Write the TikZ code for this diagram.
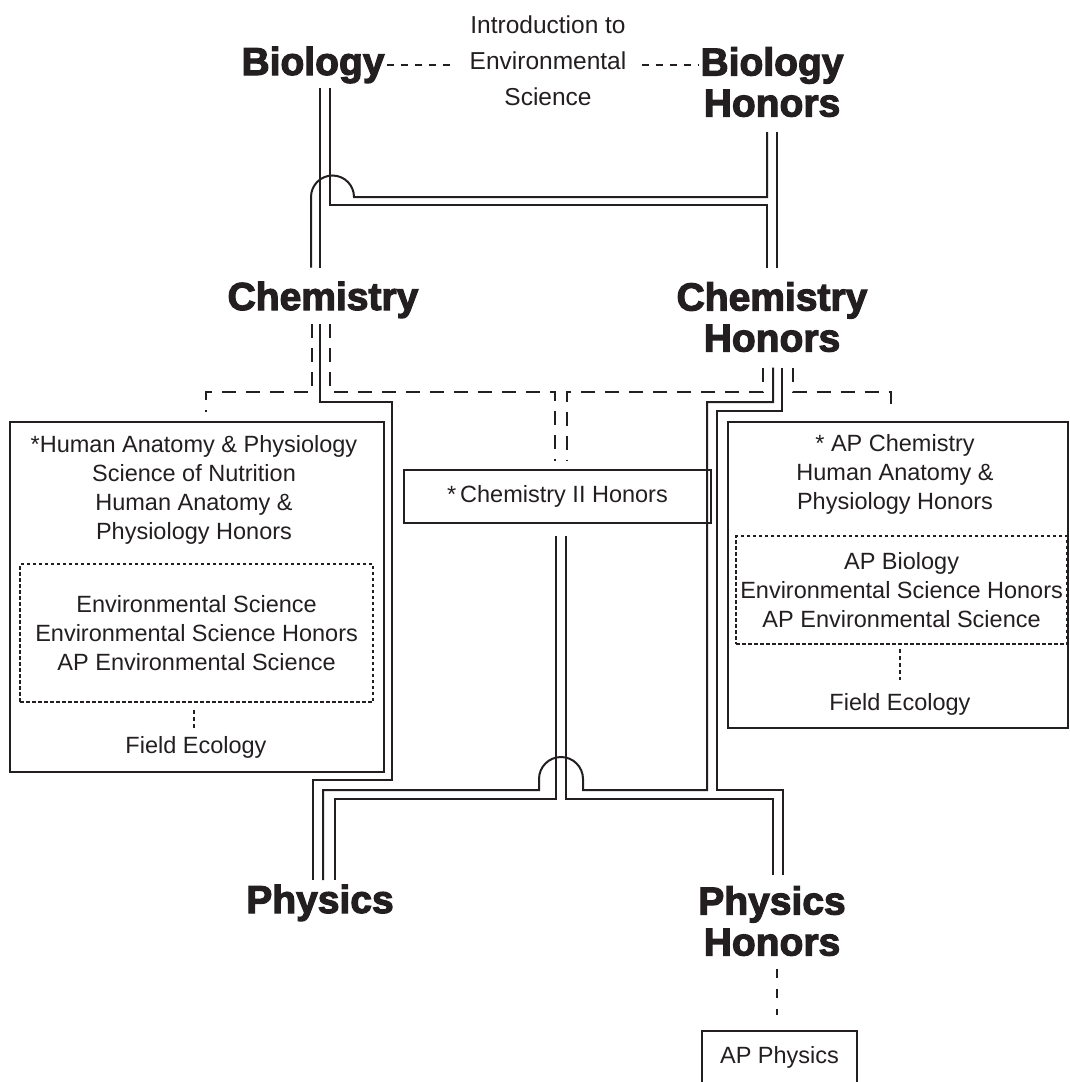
\documentclass[tikz,border=0pt]{standalone}
\usepackage{fontspec}
\setmainfont{Liberation Sans}
\newfontfamily\heavyfont{Liberation Sans}[BoldFeatures={FakeBold=3}]
\definecolor{ink}{RGB}{35,31,32}
\tikzset{
    %Define style for course titles
    course/.style={
           font=\heavyfont\bfseries\fontsize{39}{41}\selectfont,
           text=ink,
           align=center,
           inner sep=0pt,
           },
    %Define style for course lists
    listtext/.style={
           font=\fontsize{23.5}{29}\selectfont,
           text=ink,
           align=center,
           inner sep=0pt,
           },
    %Define style for boxes
    listbox/.style={
           rectangle,
           draw=ink, line width=1.8pt,
           anchor=north west,
           },
    envbox/.style={
           rectangle,
           draw=ink, line width=2.2pt,
           dash pattern=on 3.5pt off 2.5pt,
           anchor=north west,
           },
    % Define line styles
    road/.style={draw=ink, line width=2pt},
    dashroad/.style={draw=ink, line width=2pt, dash pattern=on 14pt off 10pt},
    dotroad/.style={draw=ink, line width=2.2pt, dash pattern=on 4pt off 3pt},
    linkdash/.style={draw=ink, line width=1.6pt, dash pattern=on 7pt off 7pt},
}
\begin{document}
\begin{tikzpicture}[x=1pt,y=-1pt]
\useasboundingbox (0,0) rectangle (1069,1082);
\fill[white] (0,0) rectangle (1069,1082);

 %nodes
\node[course, anchor=base](bio) at (313,75){Biology};
\node[course, anchor=north](bioh) at (772,47){Biology\\Honors};
\node[listtext, font=\fontsize{24.5}{36}\selectfont, anchor=north](intro) at (548,16){Introduction to\\Environmental\\Science};
\node[course, anchor=base](chem) at (323,310){Chemistry};
\node[course, anchor=north](chemh) at (772,282){Chemistry\\Honors};
\node[course, anchor=base](phys) at (320,913){Physics};
\node[course, anchor=north](physh) at (772,886){Physics\\Honors};

 %left box
\node[listbox, minimum width=374pt, minimum height=350pt](leftbox) at (9,421){};
\node[listtext, anchor=north](leftlist) at (194,435.6){*Human Anatomy \& Physiology\\Science of Nutrition\\Human Anatomy \&\\Physiology Honors};
\node[envbox, listtext, anchor=north west, minimum width=353pt, minimum height=138pt](leftenv) at (19,563){Environmental Science\\Environmental Science Honors\\AP Environmental Science};
\node[listtext, anchor=base](leftfield) at (196,753.5){Field Ecology};

 %right box
\node[listbox, minimum width=340pt, minimum height=306pt](rightbox) at (727,421){};
\node[listtext, anchor=north](rightlist) at (895,434.6){* AP Chemistry\\Human Anatomy \&\\Physiology Honors};
\node[envbox, listtext, anchor=north west, minimum width=331pt, minimum height=108pt](rightenv) at (735,535){AP Biology\\Environmental Science Honors\\AP Environmental Science};
\node[listtext, anchor=base](rightfield) at (900,710.5){Field Ecology};

 %middle boxes
\node[listbox, listtext, anchor=center, minimum width=307pt, minimum height=53pt](chemii) at (557.5,496.5){*\,Chemistry II Honors};
\node[listbox, listtext, anchor=north, minimum width=155pt, inner ysep=16pt, text height=17pt, text depth=13pt](approphys) at (779.5,1030){AP Physics};

 %links
\draw[linkdash, shorten <=2pt, shorten >=14pt] (bio.east) -- (intro.west |- bio.east);
\draw[linkdash, shorten <=15pt, shorten >=2pt] (intro.east |- bio.east) -- (bioh.west |- bio.east);

 %solid tracks
\draw[road, shorten <=5pt, shorten >=14pt] (bio.south -| 320,0) -- (chem.north -| 320,0);
\draw[road, shorten <=5pt, shorten >=14pt] (bio.south -| 330,0) |- (767,205) -- (chemh.north -| 767,0);
\draw[road, shorten <=15pt, shorten >=14pt] (bioh.south -| 767,0) |- (354,197)
    arc[start angle=0, end angle=180, radius=21.5pt] -- (chem.north -| 311,0);
\draw[road, shorten <=15pt, shorten >=14pt] (bioh.south -| 777,0) -- (chemh.north -| 777,0);

\draw[road, shorten <=6pt, shorten >=4.5pt] (chem.south -| 320,0) |- (392,402) |- (313,780) -- (phys.north -| 313,0);
\draw[road, shorten <=15.5pt, shorten >=4.5pt] (chemh.south -| 773,0) |- (707,402) |- (583,790) -- (583,779)
    arc[start angle=0, end angle=180, radius=22pt] -- (539,790) -| (phys.north -| 323,0);
\draw[road, shorten <=15.5pt, shorten >=11pt] (chemh.south -| 782,0) |- (717,411) |- (783,790) -- (physh.north -| 783,0);
\draw[road, shorten <=12pt, shorten >=4.5pt] (chemii.south -| 556,0) |- (335,799) -- (phys.north -| 335,0);
\draw[road, shorten <=12pt, shorten >=11pt] (chemii.south -| 566,0) |- (773,799) -- (physh.north -| 773,0);

 %dashed tracks
\draw[dashroad, shorten <=6pt, shorten >=9pt] (chem.south -| 312,0) |- (206,392) -- (leftbox.north -| 206,0);
\draw[dashroad, shorten <=6pt, shorten >=8pt] (chem.south -| 330,0) |- (555,392) -- (chemii.north -| 555,0);
\draw[dashroad, shorten <=15.5pt, shorten >=8pt] (chemh.south -| 763,0) |- (567,392) -- (chemii.north -| 567,0);
\draw[dashroad, shorten <=15.5pt, shorten >=9pt] (chemh.south -| 793,0) |- (891,392) -- (rightbox.north -| 891,0);
\draw[dashroad, dash pattern=on 9pt off 11pt, shorten <=12.5pt, shorten >=15pt] (physh.south -| 777,0) -- (approphys.north -| 777,0);

 %dotted tracks
\draw[dotroad, shorten <=7pt, shorten >=8.5pt] (leftenv.south -| 194,0) -- (leftfield.north -| 194,0);
\draw[dotroad, shorten <=4pt, shorten >=13.5pt] (rightenv.south -| 900,0) -- (rightfield.north -| 900,0);

\end{tikzpicture}
\end{document}
